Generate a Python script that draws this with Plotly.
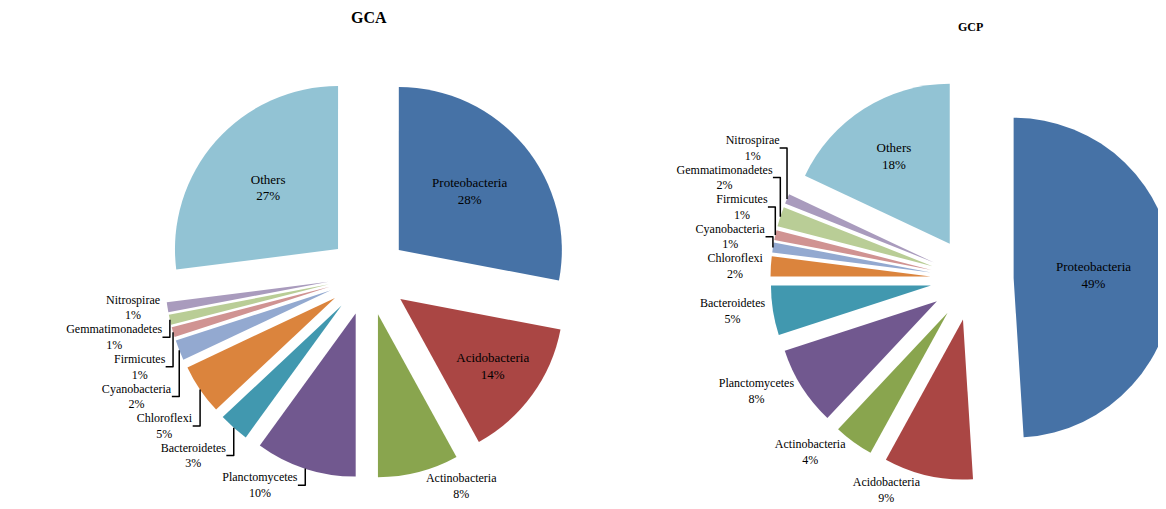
import plotly.graph_objects as go

phyla = ["Proteobacteria", "Acidobacteria", "Actinobacteria", "Planctomycetes",
         "Bacteroidetes", "Chloroflexi", "Cyanobacteria", "Firmicutes",
         "Gemmatimonadetes", "Nitrospirae", "Others"]
gca_values = [28, 14, 8, 10, 3, 5, 2, 1, 1, 1, 27]
gcp_values = [49, 9, 4, 8, 5, 2, 1, 1, 2, 1, 18]

colors = ["#4672A6", "#AA4644", "#89A54E", "#71588F", "#4198AF", "#DB843D",
          "#93A9D0", "#D09392", "#B9CD96", "#A99BBD", "#92C3D4"]

gca_inside = ["Proteobacteria", "Acidobacteria", "Others"]
gcp_inside = ["Proteobacteria", "Others"]

FONT = "Liberation Serif, Times New Roman, serif"


def textpos(inside):
    return ["inside" if p in inside else "outside" for p in phyla]


fig = go.Figure()
fig.add_trace(go.Pie(
    labels=phyla, values=gca_values, sort=False, direction="clockwise", rotation=0,
    pull=0.245, marker=dict(colors=colors, line=dict(width=0)),
    texttemplate="%{label}<br>%{percent:.0%}", textposition=textpos(gca_inside),
    insidetextorientation="horizontal", automargin=False,
    insidetextfont=dict(family=FONT, size=13, color="black"),
    outsidetextfont=dict(family=FONT, size=12, color="black"),
    domain=dict(x=[0.1346, 0.4829], y=[0.0756, 0.8733]),
    hoverinfo="label+percent", showlegend=False,
))
fig.add_trace(go.Pie(
    labels=phyla, values=gcp_values, sort=False, direction="clockwise", rotation=0,
    pull=0.26, marker=dict(colors=colors, line=dict(width=0)),
    texttemplate="%{label}<br>%{percent:.0%}", textposition=textpos(gcp_inside),
    insidetextorientation="horizontal", automargin=False,
    insidetextfont=dict(family=FONT, size=13, color="black"),
    outsidetextfont=dict(family=FONT, size=12, color="black"),
    domain=dict(x=[0.6539, 0.9997], y=[0.0715, 0.8637]),
    hoverinfo="label+percent", showlegend=False,
))

fig.update_layout(
    width=1166, height=509,
    margin=dict(l=0, r=0, t=0, b=0, autoexpand=False),
    paper_bgcolor="white", plot_bgcolor="white",
    showlegend=False,
    annotations=[
        dict(text="<b>GCA</b>", x=0.3100, y=0.9823, xref="paper", yref="paper",
             xanchor="center", yanchor="middle", showarrow=False,
             font=dict(family=FONT, size=16, color="black")),
        dict(text="<b>GCP</b>", x=0.8259, y=0.9627, xref="paper", yref="paper",
             xanchor="center", yanchor="middle", showarrow=False,
             font=dict(family=FONT, size=12, color="black")),
    ],
)

fig.write_html("out.html")
